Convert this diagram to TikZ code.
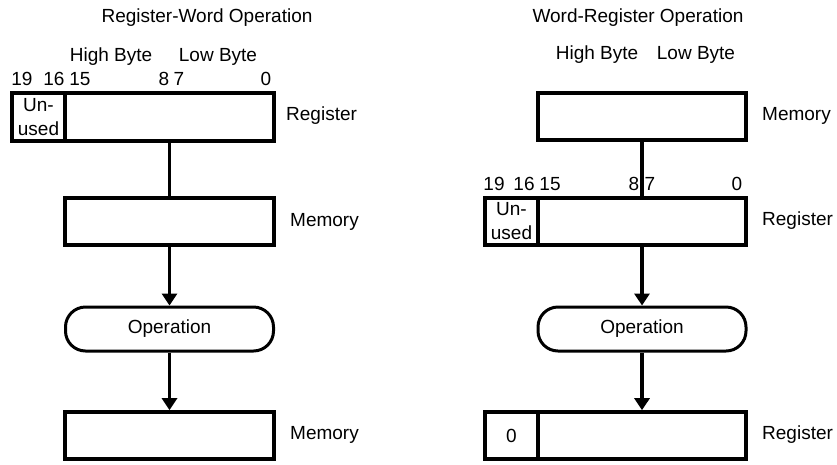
\documentclass[tikz,border=0pt]{standalone}
\usepackage{fontspec}
\setmainfont{Liberation Sans}
\usetikzlibrary{arrows.meta}
\tikzset{
  txt/.style={inner sep=0pt,font=\fontsize{19}{24}\selectfont},
  cell/.style={draw,line width=3.6pt,inner sep=0pt,minimum height=47pt,font=\fontsize{19}{24}\selectfont,align=center},
  opbox/.style={cell,line width=3pt,rounded corners=20pt,minimum height=44pt,minimum width=208pt},
  link/.style={line width=3.6pt},
  flow/.style={line width=3.6pt,-{Triangle[length=12pt,width=15pt]}}
}
\begin{document}
\begin{tikzpicture}[x=1pt,y=-1pt]
  \useasboundingbox (0,0) rectangle (837,464);
  % Register-Word Operation
  \node[txt] (titleA) at (207,18) {Register-Word Operation};
  \node[txt] (hiA) at (111,57) {High Byte};
  \node[txt] (loA) at (218,57) {Low Byte};
  \node[txt] (b19A) at (22,79) {19};
  \node[txt] (b16A) at (54,79) {16};
  \node[txt] (b15A) at (80,79) {15};
  \node[txt] (b8A) at (164,79) {8};
  \node[txt] (b7A) at (179,79) {7};
  \node[txt] (b0A) at (266,79) {0};
  \node[cell,minimum width=53pt,minimum height=48pt] (unusedA) at (38.5,117) {Un-\\used};
  \node[cell,minimum width=209pt,minimum height=48pt] (regA) at (169.5,117) {};
  \node[cell,minimum width=209pt] (memA) at (169.5,221.5) {};
  \node[opbox] (opA) at (169.5,329) {Operation};
  \node[cell,minimum width=209pt] (resA) at (169.5,435.5) {};
  \node[txt,anchor=west] (lregA) at (286,116) {Register};
  \node[txt,anchor=west] (lmemA) at (290,222) {Memory};
  \node[txt,anchor=west] (lresA) at (290,435) {Memory};
  \draw[link] (regA) -- (memA);
  \draw[flow] (memA) -- (opA);
  \draw[flow] (opA) -- (resA);

  % Word-Register Operation
  \node[txt] (titleB) at (638,18) {Word-Register Operation};
  \node[txt] (hiB) at (597,55) {High Byte};
  \node[txt] (loB) at (696,55) {Low Byte};
  \node[cell,minimum width=208pt] (memB) at (642,116.5) {};
  \node[txt] (b19B) at (494,184) {19};
  \node[txt] (b16B) at (524,184) {16};
  \node[txt] (b15B) at (550,184) {15};
  \node[txt] (b8B) at (634,184) {8};
  \node[txt] (b7B) at (650,184) {7};
  \node[txt] (b0B) at (737,184) {0};
  \node[cell,minimum width=53pt] (unusedB) at (511.5,221.5) {Un-\\used};
  \node[cell,minimum width=208pt] (regB) at (642,221.5) {};
  \node[opbox] (opB) at (642,329) {Operation};
  \node[cell,minimum width=53pt] (zeroB) at (511.5,435.5) {0};
  \node[cell,minimum width=208pt] (resB) at (642,435.5) {};
  \node[txt,anchor=west] (lmemB) at (762,116) {Memory};
  \node[txt,anchor=west] (lregB) at (762,221) {Register};
  \node[txt,anchor=west] (lresB) at (762,435) {Register};
  \draw[link] (memB) -- (regB);
  \draw[flow] (regB) -- (opB);
  \draw[flow] (opB) -- (resB);
\end{tikzpicture}
\end{document}
